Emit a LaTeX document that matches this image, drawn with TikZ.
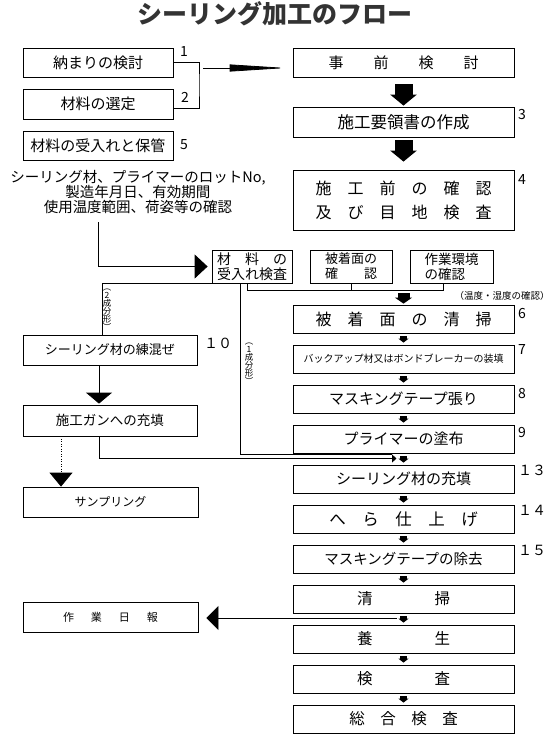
\documentclass[tikz,border=0pt]{standalone}
\usepackage{fontspec}
\setmainfont{Noto Sans CJK JP}
\usetikzlibrary{arrows.meta,positioning,calc}
\newcommand{\jfs}[2]{\fontsize{#1}{#2}\selectfont}

\begin{document}
\begin{tikzpicture}[x=1pt,y=-1pt,
  box/.style={draw,line width=0.8pt,inner sep=0pt,align=center},
  lbox/.style={box,minimum width=150pt,minimum height=29pt,font=\jfs{15}{17}},
  wbox/.style={box,minimum width=174pt,minimum height=30pt},
  rbox/.style={box,minimum width=221pt,minimum height=28pt,font=\jfs{15}{17}},
  sbox/.style={box,minimum height=33pt,font=\jfs{13.5}{15}},
  num/.style={font=\jfs{14}{14},inner sep=0pt},
  link/.style={line width=0.8pt},
  bigarrow/.style={line width=18pt,-{Triangle[length=11pt,width=26pt]}},
  midarrow/.style={line width=12pt,-{Triangle[length=6pt,width=17pt]}},
  tinyarrow/.style={line width=7pt,-{Triangle[length=4pt,width=10pt]},
                    shorten <=3pt,shorten >=2pt},
  vlabel/.style={font=\jfs{8.5}{8},align=center,inner sep=0pt}]
  \useasboundingbox (0,0) rectangle (558,737);

  % Title
  \node[font=\jfs{25}{25}\bfseries,text=black!80] (title) at (275,14)
        {シーリング加工のフロー};

  % Left: preparation
  \node[lbox] (osamari) at (98,62.5) {納まりの検討};
  \node[lbox,minimum height=30pt] (sentei) at (98,104) {材料の選定};
  \node[lbox] (hokan) at (98,145.5) {材料の受入れと保管};
  \node[num] at (184,52) {1};
  \node[num] at (185,97) {2};
  \node[num] at (184,145) {5};
  \node[font=\jfs{14.5}{15},align=center] (lot) at (138,192)
        {シーリング材、プライマーのロットNo,\\製造年月日、有効期間\\使用温度範囲、荷姿等の確認};

  % Right: main flow
  \node[rbox,minimum height=29pt] (jizen) at (403.5,62.5) {事　　前　　検　　討};
  \node[rbox,minimum height=30pt,font=\jfs{16.5}{17}] (yoryo) at (403.5,122)
        {施工要領書の作成};
  \node[rbox,minimum height=60pt,font=\jfs{16}{24}] (sekomae) at (403.5,200)
        {施　工　前　の　確　認\\及　び　目　地　検　査};
  \node[num,anchor=west] at (518,115) {3};
  \node[num,anchor=west] at (518,180) {4};

  % Checks before work
  \node[sbox,minimum width=80pt,font=\jfs{14}{15}] (uke) at (252,266.5)
        {材　料　の\\受入れ検査};
  \node[sbox,minimum width=82pt,font=\jfs{13}{15}] (hichaku) at (351,266.5)
        {被着面の\\確　　認};
  \node[sbox,minimum width=83pt,align=left] (kankyo) at (451.5,266.5)
        {作業環境\\の確認};
  \node[font=\jfs{9.5}{10}] (ondo) at (502,296) {（温度・湿度の確認）};

  \node[rbox,font=\jfs{16}{17}] (seisou1) at (403.5,319) {被　着　面　の　清　掃};
  \node[rbox,font=\jfs{10}{11}] (backup) at (403.5,359)
        {バックアップ材又はボンドブレーカーの装填};
  \node[rbox] (masking) at (403.5,399) {マスキングテープ張り};
  \node[rbox] (primer) at (403.5,439) {プライマーの塗布};
  \node[rbox] (juten) at (403.5,479) {シーリング材の充填};
  \node[rbox,font=\jfs{16.5}{17}] (hera) at (403.5,519) {へ　ら　仕　上　げ};
  \node[rbox,font=\jfs{14.5}{17}] (jokyo) at (403.5,559) {マスキングテープの除去};
  \node[rbox,font=\jfs{15.5}{17}] (seisou2) at (403.5,599) {清　　　　掃};
  \node[rbox,font=\jfs{15.5}{17}] (yojo) at (403.5,639) {養　　　　生};
  \node[rbox,font=\jfs{15.5}{17}] (kensa) at (403.5,679) {検　　　　査};
  \node[rbox,font=\jfs{15.5}{17}] (sogo) at (403.5,719) {総　合　検　査};
  \node[num,anchor=west] at (518,314) {6};
  \node[num,anchor=west] at (518,350) {7};
  \node[num,anchor=west] at (518,394) {8};
  \node[num,anchor=west] at (518,433) {9};
  \node[num,anchor=west] at (518,470) {１３};
  \node[num,anchor=west] at (518,510) {１４};
  \node[num,anchor=west] at (518,550) {１５};

  % Left: two-component branch
  \node[wbox,font=\jfs{13}{15}] (neri) at (110,350) {シーリング材の練混ぜ};
  \node[wbox,minimum height=31pt,font=\jfs{13.5}{15}] (gun) at (110,420.5)
        {施工ガンへの充填};
  \node[wbox,minimum width=175pt,font=\jfs{12}{14}] (sampling) at (110.5,502)
        {サンプリング};
  \node[wbox,minimum width=175pt,font=\jfs{11}{13}] (nippo) at (110.5,617)
        {作\hspace{17pt}業\hspace{17pt}日\hspace{17pt}報};
  \node[num,anchor=west] at (204,343) {１０};
  \node[vlabel] (two) at (107,310) {︵\\2\\成\\分\\形\\︶};
  \node[vlabel] (one) at (249,364) {︵\\1\\成\\分\\形\\︶};

  % Connectors
  \coordinate (brk) at (199,85);
  \coordinate (larr) at (203,68);
  \coordinate (lotline) at (98,222);
  \coordinate (rowbar) at (403.5,290);
  \coordinate (nipposrc) at (397,618);
  \draw[link] (osamari.east) -| (brk) |- ([yshift=-4pt]sentei.east);
  \draw[link,-{Triangle[length=57pt,width=7pt]},shorten >=6pt]
        (larr) -- (larr -| jizen.west);
  \draw[bigarrow,shorten <=7pt,shorten >=1pt] (jizen.south) -- (yoryo.north);
  \draw[bigarrow,shorten <=3pt,shorten >=8pt] (yoryo.south) -- (sekomae.north);
  \draw[link,-{Triangle[length=13pt,width=24pt]},shorten >=4pt]
        (lotline) |- (uke.west);
  \draw[link] ([xshift=-5pt]uke.south) |- ([xshift=-8.5pt]kankyo.south |- rowbar)
        -- ([xshift=-8.5pt]kankyo.south);
  \draw[link] (hichaku.south) -- (hichaku.south |- rowbar);
  \draw[midarrow,shorten <=3pt,shorten >=1pt] (rowbar) -- (seisou1.north);
  \foreach \a/\b in {seisou1/backup,backup/masking,masking/primer,primer/juten,
                     juten/hera,hera/jokyo,jokyo/seisou2,seisou2/yojo,
                     yojo/kensa,kensa/sogo}
    \draw[tinyarrow] (\a.south) -- (\b.north);

  % two-component / one-component routes
  \draw[link] (uke.south west) -| (neri.north -| two.west);
  \draw[link] ([xshift=-12pt]uke.south) |- (392,454);
  \draw[link,-{Triangle[length=11pt,width=26pt]},shorten >=1pt]
        ([xshift=-11pt]neri.south) -- ([xshift=-11pt]gun.north);
  \draw[link,-{Triangle[length=4.5pt,width=8pt]}]
        ([xshift=-11pt]gun.south) |- (396.5,458.5);
  \draw[link,dash pattern=on 1pt off 1.5pt,-{Triangle[length=14pt,width=23pt]}]
        ([xshift=-49pt]gun.south) -- ([xshift=-49.5pt]sampling.north);
  \draw[link,-{Triangle[length=12pt,width=24pt]},shorten >=8pt]
        (nipposrc) -- (nipposrc -| nippo.east);
\end{tikzpicture}
\end{document}
